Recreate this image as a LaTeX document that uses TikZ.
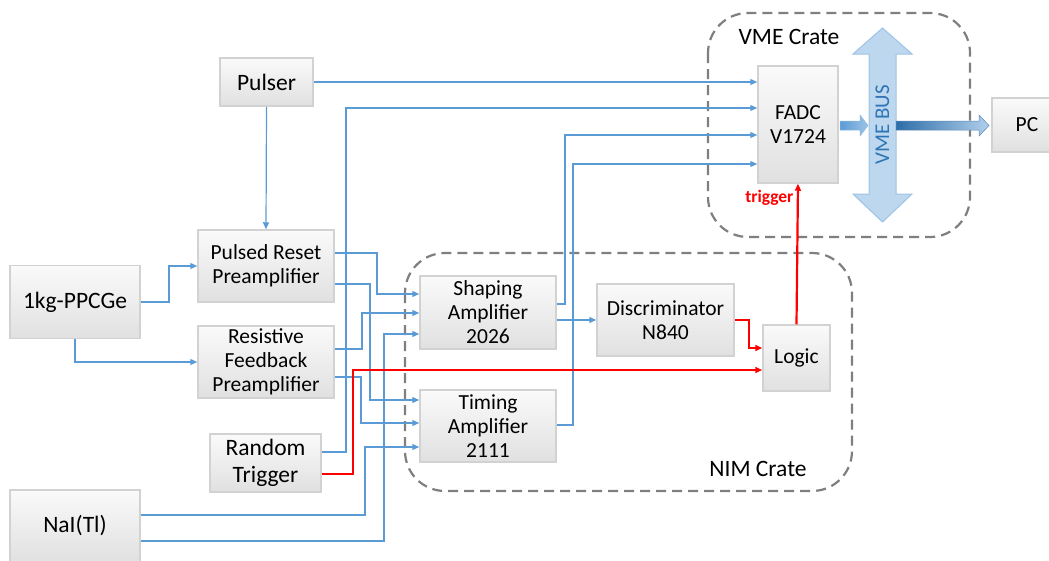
\documentclass[tikz,border=0pt]{standalone}
\usepackage{fontspec}
\setmainfont{Carlito}
\usetikzlibrary{arrows.meta,positioning,calc}
\definecolor{sigblue}{HTML}{5B9BD5}
\definecolor{boxline}{HTML}{D2D2D2}
\definecolor{cratedash}{HTML}{7F7F7F}
\definecolor{busfill}{HTML}{BDD7EE}
\definecolor{busline}{HTML}{9DC3E6}
\definecolor{bustext}{HTML}{2E75B6}
\definecolor{busdark}{HTML}{2E6DA8}

\begin{document}
\begin{tikzpicture}[x=1pt,y=-1pt,>={Triangle[length=7pt,width=6pt]},
    font=\fontsize{21.5}{24}\selectfont]
    \tikzstyle{blk}=[draw=boxline,line width=1.5pt,top color=gray!4,bottom color=gray!24,
        align=center,inner sep=2pt]
    \tikzstyle{sig}=[->,draw=sigblue,line width=1.2pt]
    \tikzstyle{trg}=[->,draw=red,line width=2.2pt]
    \tikzstyle{crate}=[draw=cratedash,line width=2.2pt,dash pattern=on 10pt off 6pt,
        rounded corners=40pt]
    \tikzstyle{big}=[font=\fontsize{23.5}{27}\selectfont]

    \useasboundingbox (0,0) rectangle (1049,560);

    % crates
    \draw[crate] (708,13) rectangle (970,237);
    \draw[crate] (405,253) rectangle (852,491);
    \node[big] (vmelbl) at (789,37) {VME Crate};
    \node[big] (nimlbl) at (758,469) {NIM Crate};

    % modules
    \node[blk,big,minimum width=93pt,minimum height=48pt] (pulser) at (266.5,82) {Pulser};
    \node[blk,minimum width=136pt,minimum height=72pt] (prp) at (266,266) {Pulsed Reset\\Preamplifier};
    \node[blk,big,minimum width=130pt,minimum height=73pt] (ge) at (75,302) {1kg-PPCGe};
    \node[blk,minimum width=136pt,minimum height=72pt] (rfp) at (266,362) {Resistive\\Feedback\\Preamplifier};
    \node[blk,big,minimum width=111pt,minimum height=58pt] (rnd) at (265.5,463) {Random\\Trigger};
    \node[blk,big,minimum width=130pt,minimum height=72pt] (nai) at (75,526) {NaI(Tl)};
    \node[blk,minimum width=136pt,minimum height=73pt] (shp) at (488,312.5) {Shaping\\Amplifier\\2026};
    \node[blk,minimum width=136pt,minimum height=72pt] (tim) at (488,426) {Timing\\Amplifier\\2111};
    \node[blk,minimum width=137pt,minimum height=72pt] (disc) at (665.5,320) {Discriminator\\N840};
    \node[blk,minimum width=67pt,minimum height=66pt] (logic) at (796.5,358) {Logic};
    \node[blk,minimum width=80pt,minimum height=117pt] (fadc) at (798,124.5) {FADC\\V1724};
    \node[blk,minimum width=70pt,minimum height=54pt] (pc) at (1027,125) {PC};

    % VME bus
    \draw[busline,fill=busfill,line width=1pt] (882.5,28) -- (912,54) -- (896,54) -- (896,194)
        -- (912,194) -- (882.5,222) -- (853,194) -- (869,194) -- (869,54) -- (853,54) -- cycle;
    \node[rotate=90,text=bustext,font=\fontsize{21}{24}\selectfont] (bus) at (882.5,125) {VME BUS};
    \shade[left color=sigblue,right color=busline,draw=sigblue!70,line width=0.5pt]
        (840,121) -- (860,121) -- (860,115) -- (868,125.5) -- (860,136) -- (860,130) -- (840,130) -- cycle;
    \shade[left color=busdark,right color=busline!80,draw=busdark!80,line width=0.5pt]
        (896,121) -- (979,121) -- (979,115) -- (989,125.5) -- (979,136) -- (979,130) -- (896,130) -- cycle;

    % signals
    \draw[sig] (pulser.east) -- (fadc.west |- pulser.east);
    \draw[sig] (pulser.south) -- (prp.north);
    \draw[sig] (rnd.east |- 0,452) -| (346,108) -- (fadc.west |- 0,108);
    \draw[sig] (ge.east) -| (169,266) -- (prp.west |- 0,266);
    \draw[sig] (ge.south) |- (rfp.west);
    \draw[sig] (prp.east |- 0,253) -| (377,294) -- (shp.west |- 0,294);
    \draw[sig] (prp.east |- 0,284) -| (370,400) -- (tim.west |- 0,400);
    \draw[sig] (rfp.east |- 0,349) -| (362,313) -- (shp.west |- 0,313);
    \draw[sig] (rfp.east |- 0,377) -| (361,423) -- (tim.west |- 0,423);
    \draw[sig] (nai.east |- 0,515) -| (365,447) -- (tim.west |- 0,447);
    \draw[sig] (nai.east |- 0,541) -| (384,334) -- (shp.west |- 0,334);
    \draw[sig] (shp.east |- 0,304) -| (565,135) -- (fadc.west |- 0,135);
    \draw[sig] (tim.east |- 0,425) -| (573,164) -- (fadc.west |- 0,164);
    \draw[sig] (shp.east |- disc.west) -- (disc.west);

    % trigger path
    \draw[trg] (rnd.east |- 0,474) -| (353,370) -- (logic.west |- 0,370);
    \draw[trg] (disc.east) -| (749,348) -- (logic.west |- 0,348);
    \draw[trg] (logic.north) -- node[pos=0.9,left=0pt,text=red,font=\fontsize{17.5}{20}\selectfont\bfseries] {trigger} (fadc.south);

\end{tikzpicture}
\end{document}
